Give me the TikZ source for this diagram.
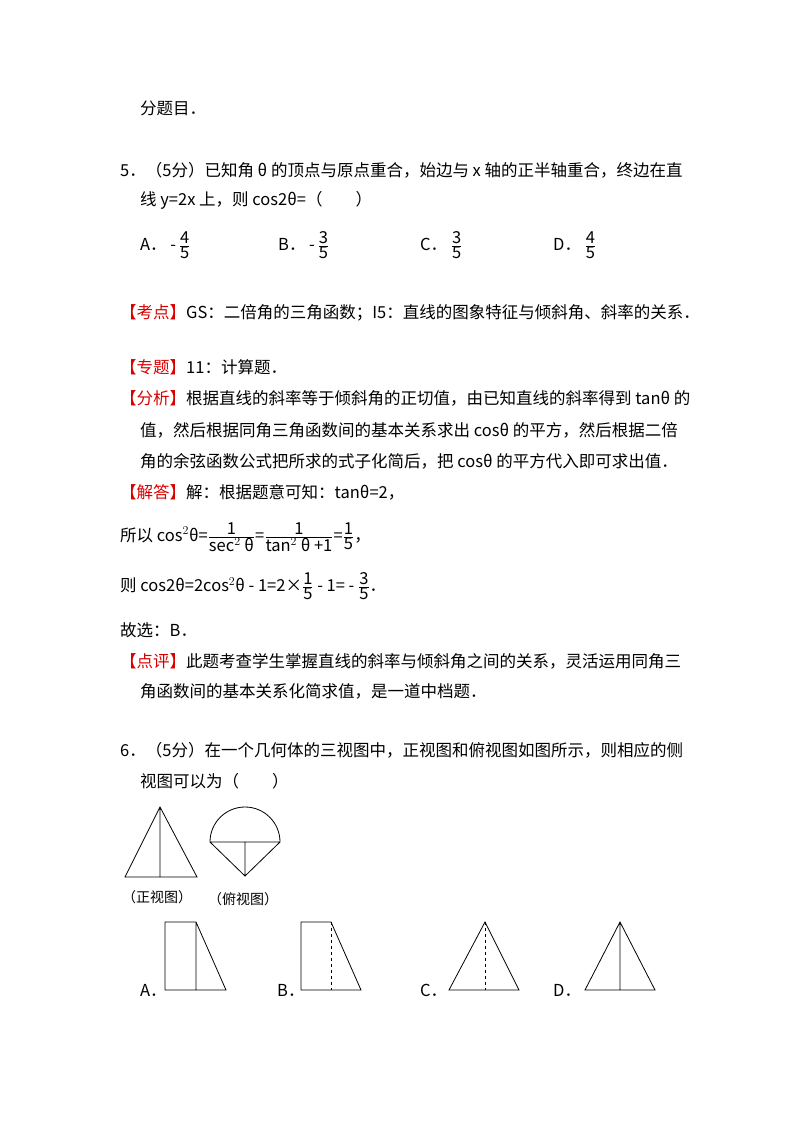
\documentclass[tikz,border=0pt]{standalone}
\usepackage{fontspec}
\setmainfont{Noto Sans CJK SC}
\tikzset{t/.style={anchor=west,inner sep=0pt,font=\fontsize{16.5}{19}\selectfont},
 fig/.style={line width=0.8pt}}
\newcommand{\fr}[2]{$\frac{\mbox{#1}}{\mbox{#2}}$}
\begin{document}
\begin{tikzpicture}[x=1pt,y=-1pt]
\useasboundingbox (0,0) rectangle (800,1133);
\node[t] (l0) at (140,108) {分题目．};
\node[t] (l1) at (120,170) {5．（5分）已知角 θ 的顶点与原点重合，始边与 x 轴的正半轴重合，终边在直};
\node[t] (l2) at (140,200) {线 y=2x 上，则 cos2θ=（\hspace{2em}）};
\node[t] (oa) at (140,245) {A． -\,\fr{4}{5}};
\node[t] (ob) at (278,245) {B． -\,\fr{3}{5}};
\node[t] (oc) at (420,245) {C． \fr{3}{5}};
\node[t] (od) at (553,245) {D． \fr{4}{5}};
\node[t] (k) at (120,313) {\textcolor{red!85!black}{【考点】}GS：二倍角的三角函数；I5：直线的图象特征与倾斜角、斜率的关系．};
\node[t] (z) at (120,367) {\textcolor{red!85!black}{【专题】}11：计算题．};
\node[t] (f1) at (120,398) {\textcolor{red!85!black}{【分析】}根据直线的斜率等于倾斜角的正切值，由已知直线的斜率得到 tanθ 的};
\node[t] (f2) at (140,430) {值，然后根据同角三角函数间的基本关系求出 cosθ 的平方，然后根据二倍};
\node[t] (f3) at (140,461) {角的余弦函数公式把所求的式子化简后，把 cosθ 的平方代入即可求出值．};
\node[t] (j) at (120,492) {\textcolor{red!85!black}{【解答】}解：根据题意可知：tanθ=2，};
\node[t] (s1) at (120,537) {所以 cos$^2$θ=$\frac{\mbox{1}}{\mbox{sec$^2$ θ}}$=$\frac{\mbox{1}}{\mbox{tan$^2$ θ +1}}$=$\frac{\mbox{1}}{\mbox{5}}$，};
\node[t] (s2) at (120,586) {则 cos2θ=2cos$^2$θ - 1=2×$\frac{\mbox{1}}{\mbox{5}}$ - 1= - $\frac{\mbox{3}}{\mbox{5}}$．};
\node[t] (g) at (120,630) {故选：B．};
\node[t] (p1) at (120,661) {\textcolor{red!85!black}{【点评】}此题考查学生掌握直线的斜率与倾斜角之间的关系，灵活运用同角三};
\node[t] (p2) at (140,691) {角函数间的基本关系化简求值，是一道中档题．};
\node[t] (q1) at (120,750) {6．（5分）在一个几何体的三视图中，正视图和俯视图如图所示，则相应的侧};
\node[t] (q2) at (140,781) {视图可以为（\hspace{2em}）};
% front view
\draw[fig] (125,877) -- (160,807) -- (197,877) -- cycle (160,807) -- (160,877);
\node[t,font=\fontsize{14}{16}\selectfont] (fl) at (122,897) {（正视图）};
% top view
\draw[fig] (210,842) arc[start angle=180,end angle=360,radius=35] -- (245,876) -- cycle (210,842) -- (280,842) (245,842) -- (245,876);
\node[t,font=\fontsize{14}{16}\selectfont] (tl) at (208,899) {（俯视图）};
% options
\node[t] (la) at (140,990) {A．};
\draw[fig] (165,922) rectangle (196,990) (196,922) -- (226,990) -- (196,990);
\node[t] (lb) at (277,990) {B．};
\draw[fig] (301,922) -- (331,922) -- (361,990) -- (301,990) -- cycle;
\draw[fig,dashed] (331,922) -- (331,990);
\node[t] (lc) at (420,990) {C．};
\draw[fig] (449,990) -- (485,922) -- (519,990) -- cycle;
\draw[fig,dashed] (485,922) -- (485,990);
\node[t] (ld) at (553,990) {D．};
\draw[fig] (585,990) -- (620,922) -- (655,990) -- cycle (620,922) -- (620,990);
\end{tikzpicture}
\end{document}
